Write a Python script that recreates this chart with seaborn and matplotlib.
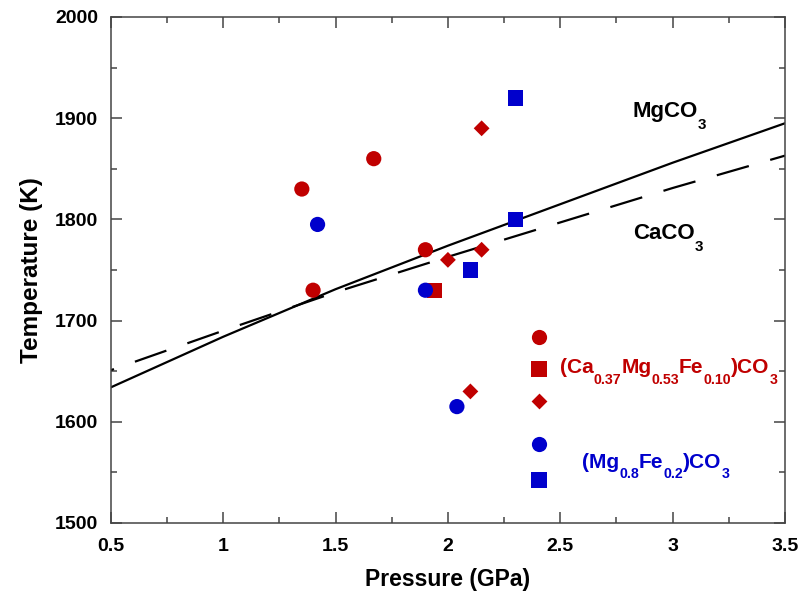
import matplotlib
matplotlib.use("Agg")
import pandas as pd
import matplotlib.pyplot as plt
import seaborn as sns
from matplotlib.ticker import MultipleLocator

# melting curves
curve_p = [0.5, 1.0, 1.5, 2.0, 2.5, 3.0, 3.5]
mgco3_t = [1634, 1684, 1731, 1774, 1815, 1856, 1895]
caco3_t = [1651, 1690, 1728, 1763, 1797, 1831, 1863]

# (Ca0.37Mg0.53Fe0.10)CO3
red_circle_p = [1.35, 1.67, 1.90, 1.40]
red_circle_t = [1830, 1860, 1770, 1730]
red_square_p = [1.94]
red_square_t = [1730]
red_diamond_p = [2.15, 2.00, 2.15, 2.10]
red_diamond_t = [1890, 1760, 1770, 1630]

# (Mg0.8Fe0.2)CO3
blue_circle_p = [1.42, 2.04, 1.90]
blue_circle_t = [1795, 1615, 1730]
blue_square_p = [2.30, 2.30, 2.10]
blue_square_t = [1920, 1800, 1750]

RED = "#C00000"
BLUE = "#0000CC"


def group(p, t, sample, kind):
    return pd.DataFrame({"P": p, "T": t, "sample": sample, "kind": kind})


df = pd.concat([
    group(red_circle_p, red_circle_t, "red", "circle"),
    group(red_square_p, red_square_t, "red", "square"),
    group(red_diamond_p, red_diamond_t, "red", "diamond"),
    group(blue_circle_p, blue_circle_t, "blue", "circle"),
    group(blue_square_p, blue_square_t, "blue", "square"),
], ignore_index=True)

curves = pd.DataFrame({"P": curve_p, "MgCO3": mgco3_t, "CaCO3": caco3_t})

sns.set_style("ticks")
plt.rcParams["font.family"] = ["Liberation Sans", "DejaVu Sans"]
plt.rcParams["font.weight"] = "bold"
for k in ["text.color", "axes.labelcolor", "xtick.labelcolor", "ytick.labelcolor"]:
    plt.rcParams[k] = "black"

fig = plt.figure(figsize=(8.03, 5.92), dpi=100)
ax = fig.add_axes([0.138, 0.1166, 0.8396, 0.8547])

sns.lineplot(data=curves, x="P", y="MgCO3", color="black", lw=1.6, ax=ax, zorder=2)
sns.lineplot(data=curves, x="P", y="CaCO3", color="black", lw=1.6,
             linestyle=(13.5, (15, 10)), ax=ax, zorder=2)

palette = {"red": RED, "blue": BLUE}
markers = {"circle": "o", "square": "s", "diamond": "D"}
sizes = {"circle": 120, "square": 120, "diamond": 65}
sns.scatterplot(data=df, x="P", y="T", hue="sample", style="kind", size="kind",
                palette=palette, markers=markers, sizes=sizes, linewidth=0,
                legend=False, ax=ax, zorder=3)

# hand-made key
key_x = 0.6355
key_y = [0.368, 0.3037, 0.241, 0.156, 0.085]
key_style = [("o", RED, 120), ("s", RED, 120), ("D", RED, 65), ("o", BLUE, 120), ("s", BLUE, 120)]
for y, (m, c, s) in zip(key_y, key_style):
    ax.scatter([key_x], [y], marker=m, color=c, s=s, linewidth=0,
               transform=ax.transAxes, clip_on=False, zorder=3)


def formula(x, y, pieces, size, color, transform):
    # pieces alternate normal text / subscript
    base = ax.text(x, y, pieces[0], fontsize=size, color=color, fontweight="bold",
                   transform=transform, va="baseline")
    prev = base
    for i, s in enumerate(pieces[1:], start=1):
        sub = i % 2 == 1
        prev = ax.annotate(s, xy=(1, 0), xycoords=(prev, base),
                           xytext=(0, -0.45 * size if sub else 0), textcoords="offset points",
                           fontsize=size * 0.68 if sub else size, color=color,
                           fontweight="bold", va="bottom", ha="left")


formula(0.666, 0.296, ["(Ca", "0.37", "Mg", "0.53", "Fe", "0.10", ")CO", "3"],
        15, RED, ax.transAxes)
formula(0.699, 0.1087, ["(Mg", "0.8", "Fe", "0.2", ")CO", "3"], 15, BLUE, ax.transAxes)
formula(2.823, 1901, ["MgCO", "3"], 16, "black", ax.transData)
formula(2.823, 1781, ["CaCO", "3"], 16, "black", ax.transData)

ax.set_xlim(0.5, 3.5)
ax.set_ylim(1500, 2000)
ax.set_xticks([0.5, 1, 1.5, 2, 2.5, 3, 3.5])
ax.set_xticklabels(["0.5", "1", "1.5", "2", "2.5", "3", "3.5"])
ax.xaxis.set_minor_locator(MultipleLocator(0.25))
ax.yaxis.set_major_locator(MultipleLocator(100))
ax.yaxis.set_minor_locator(MultipleLocator(50))

ax.tick_params(which="both", direction="in", top=True, right=True,
               color="#444444", width=1.1, labelsize=14)
ax.tick_params(which="major", length=8)
ax.tick_params(which="minor", length=4.5)
ax.tick_params(axis="x", pad=11)
ax.tick_params(axis="y", pad=9)
for sp in ax.spines.values():
    sp.set_visible(True)
    sp.set_color("#444444")
    sp.set_linewidth(1.1)

ax.set_xlabel("Pressure (GPa)", fontsize=16.5, fontweight="bold", labelpad=9)
ax.set_ylabel("Temperature (K)", fontsize=17.5, fontweight="bold", labelpad=9)

fig.savefig("out.png", dpi=100)
